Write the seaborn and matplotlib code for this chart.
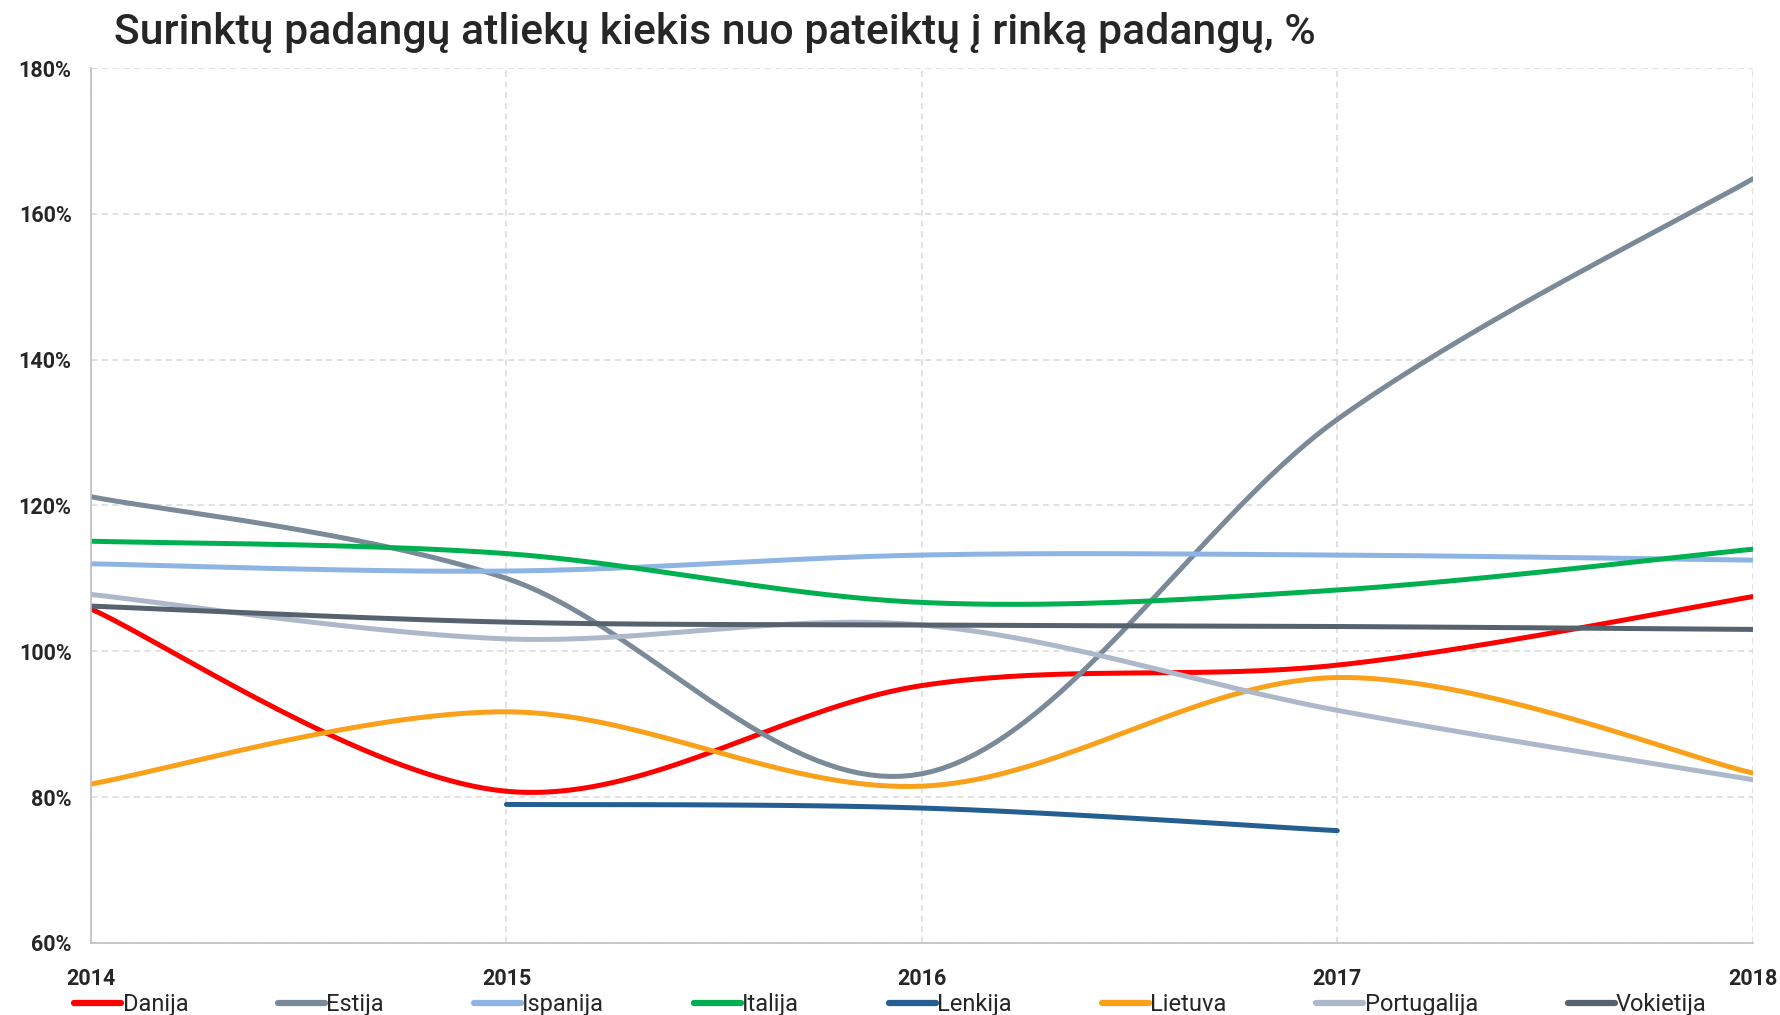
import matplotlib
matplotlib.use("Agg")
import matplotlib.pyplot as plt
import numpy as np
import pandas as pd
import seaborn as sns

years = [2014, 2015, 2016, 2017, 2018]
countries = ["Danija", "Estija", "Ispanija", "Italija", "Lenkija", "Lietuva", "Portugalija", "Vokietija"]

# values, % of tyres placed on the market
danija = [105.8, 80.8, 95.3, 98.1, 107.5]
estija = [121.2, 110.0, 83.2, 131.8, 164.8]
ispanija = [112.0, 111.0, 113.2, 113.2, 112.5]
italija = [115.1, 113.4, 106.7, 108.4, 114.0]
lenkija = [np.nan, 79.0, 78.5, 75.4, np.nan]
lietuva = [81.8, 91.7, 81.5, 96.4, 83.3]
portugalija = [107.8, 101.7, 103.6, 91.9, 82.4]
vokietija = [106.2, 104.0, 103.6, 103.4, 103.0]

series = [danija, estija, ispanija, italija, lenkija, lietuva, portugalija, vokietija]
colors = ["#FF0000", "#7A8A99", "#8DB4E2", "#00B050", "#255E91", "#F9A11B", "#ADB9CA", "#56636F"]

y_ticks = [60, 80, 100, 120, 140, 160, 180]


def smooth(xs, ys, n=40):
    # Excel-style smoothed line: Catmull-Rom bezier through the points
    pts = np.array([(x, y) for x, y in zip(xs, ys) if not np.isnan(y)], dtype=float)
    out = []
    t = np.linspace(0, 1, n)
    for i in range(len(pts) - 1):
        p0 = pts[i - 1] if i > 0 else pts[i]
        p1 = pts[i]
        p2 = pts[i + 1]
        p3 = pts[i + 2] if i + 2 < len(pts) else pts[i + 1]
        c1 = p1 + (p2 - p0) / 6
        c2 = p2 - (p3 - p1) / 6
        seg = ((1 - t) ** 3)[:, None] * p1 + (3 * (1 - t) ** 2 * t)[:, None] * c1 \
            + (3 * (1 - t) * t ** 2)[:, None] * c2 + (t ** 3)[:, None] * p2
        out.append(seg if i == 0 else seg[1:])
    return np.vstack(out)


rows = []
for name, vals in zip(countries, series):
    curve = smooth(years, vals)
    for k, (x, y) in enumerate(curve):
        rows.append({"Metai": x, "Reikšmė": y, "Šalis": name, "k": k})
df = pd.DataFrame(rows)

sns.set_style("white")
plt.rcParams["font.family"] = ["Roboto", "DejaVu Sans"]

fig = plt.figure(figsize=(17.81, 10.15), dpi=100)
ax = fig.add_axes([0.0511, 0.071, 0.933, 0.862])

sns.lineplot(data=df, x="Metai", y="Reikšmė", hue="Šalis", hue_order=countries,
             palette=colors, units="Šalis", estimator=None, sort=False,
             linewidth=3.6, ax=ax, legend=False)

ax.set_xlim(2014, 2018)
ax.set_ylim(60, 180)
ax.set_xticks(years)
ax.set_xticklabels([str(y) for y in years])
ax.set_yticks(y_ticks)
ax.set_yticklabels([f"{v}%" for v in y_ticks])
ax.grid(True, color="#D9D9D9", linestyle=(0, (4, 3)), linewidth=1.1)
for side in ["top", "right"]:
    ax.spines[side].set_visible(False)
ax.spines["left"].set_color("#BFBFBF")
ax.spines["bottom"].set_color("#BFBFBF")
ax.spines["left"].set_linewidth(1.2)
ax.spines["bottom"].set_linewidth(1.2)
ax.tick_params(axis="both", length=0, labelsize=15.5, labelcolor="#262626")
ax.tick_params(axis="x", pad=18)
ax.tick_params(axis="y", pad=14)
for lab in ax.get_xticklabels() + ax.get_yticklabels():
    lab.set_fontweight("bold")
ax.set_xlabel("")
ax.set_ylabel("")

fig.text(0.064, 0.968, "Surinktų padangų atliekų kiekis nuo pateiktų į rinką padangų, %",
         fontsize=30.8, color="#262626", fontweight="medium", va="center", ha="left")

handles = [plt.Line2D([], [], color=c, linewidth=4.5) for c in colors]
fig.legend(handles, countries, loc="lower center", bbox_to_anchor=(0.5, -0.022), ncol=8,
           frameon=False, fontsize=17, handlelength=2.0, handletextpad=0.05, columnspacing=3.8,
           labelcolor="#262626")

fig.savefig("out.png", dpi=100)
